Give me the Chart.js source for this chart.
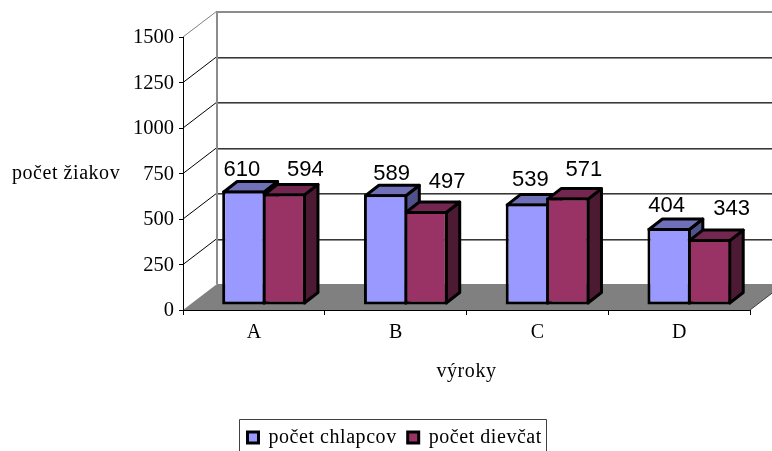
<!DOCTYPE html>
<html><head><meta charset="utf-8">
<style>html,body{margin:0;padding:0;background:#fff;overflow:hidden}canvas{display:block}</style>
<script src="https://cdn.jsdelivr.net/npm/chart.js@4"></script>
</head><body>
<canvas id="c" width="772" height="451"></canvas>
<script>
const categories = ['A', 'B', 'C', 'D'];
const boys = [610, 589, 539, 404];
const girls = [594, 497, 571, 343];
const boysName = 'počet chlapcov';
const girlsName = 'počet dievčat';
const yTitle = 'počet žiakov';
const xTitle = 'výroky';

// Drawing settings
const WALL = {dx: 34, dy: -26};
const BAR_SHIFT = {dx: 10.2, dy: -8.5};
const BAR_DEPTH = {dx: 13.5, dy: -10.5};
const SERIF = '"Liberation Serif"';
const SPACING = '0.55px';
const faceColors = [
  {top: '#7070B8', side: '#50508A'},
  {top: '#732650', side: '#4D1A33'}
];
// label nudges [dx, dy] relative to the bar's top centre, per series / category
const labelNudge = [
  [[-2, -16], [6, -16], [3, -19], [-2.5, -17]],
  [[21, -19], [21, -25], [16, -23], [22, -26]]
];

const threeD = {
  id: 'threeD',
  beforeLayout(chart) { chart.ctx.letterSpacing = SPACING; },
  afterLayout(chart) {
    const ctx = chart.ctx;
    ctx.letterSpacing = '0px';
    const lg = chart.legend;
    lg.left = 236.5; lg.right = 772; lg.top = 416.5; lg.bottom = 451;
    if (!lg._wrapped) {
      const d = lg.draw;
      lg.draw = function () { ctx.save(); ctx.letterSpacing = SPACING; d.call(this); ctx.restore(); };
      lg._wrapped = true;
    }
    const sx = chart.scales.x;
    if (!sx._wrapped) {
      const t = sx.drawTitle;
      sx.drawTitle = function () { ctx.save(); ctx.letterSpacing = SPACING; t.call(this); ctx.restore(); };
      sx._wrapped = true;
    }
    const sy = chart.scales.y;
    if (!sy._wrapped) {
      const l = sy.drawLabels;
      sy.drawLabels = function (a) { ctx.save(); ctx.translate(0, 1); l.call(this, a); ctx.restore(); };
      sy._wrapped = true;
    }
  },
  beforeDraw(chart) {
    const {ctx, chartArea: a, scales: {y}} = chart;
    ctx.save();
    // floor
    ctx.fillStyle = '#808080';
    ctx.beginPath();
    ctx.moveTo(a.left, a.bottom);
    ctx.lineTo(a.right, a.bottom);
    ctx.lineTo(a.right + WALL.dx, a.bottom + WALL.dy);
    ctx.lineTo(a.left + WALL.dx, a.bottom + WALL.dy);
    ctx.closePath();
    ctx.fill();
    // back wall lines
    const W = chart.width;
    y.ticks.forEach((t, i) => {
      if (t.value === 0) return;
      const py = y.getPixelForValue(t.value);
      const by = Math.round(py + WALL.dy);
      ctx.fillStyle = '#8c8c8c';
      ctx.fillRect(a.left + WALL.dx, by, W, 2);
      if (t.value < 1500) {
        ctx.fillStyle = 'rgba(0,0,0,0.6)';
        ctx.fillRect(a.left + WALL.dx, by, W, 1);
      }
      ctx.strokeStyle = t.value === 1500 ? '#808080' : '#000';
      ctx.lineWidth = 1;
      ctx.beginPath();
      ctx.moveTo(a.left, py);
      ctx.lineTo(a.left + WALL.dx, py + WALL.dy);
      ctx.stroke();
    });
    // wall left edge
    ctx.fillStyle = '#8c8c8c';
    ctx.fillRect(a.left + WALL.dx - 1, a.top + WALL.dy, 2, a.bottom - a.top);
    // floor right edge
    ctx.strokeStyle = '#404040';
    ctx.lineWidth = 1;
    ctx.beginPath();
    ctx.moveTo(a.right, a.bottom);
    ctx.lineTo(a.right + WALL.dx, a.bottom + WALL.dy);
    ctx.stroke();
    // y axis title
    ctx.fillStyle = '#000';
    ctx.font = '20px ' + SERIF;
    ctx.letterSpacing = SPACING;
    ctx.textAlign = 'left';
    ctx.textBaseline = 'alphabetic';
    ctx.fillText(yTitle, 12, 179);
    ctx.letterSpacing = '0px';
    // legend frame (bottom edge lies outside the picture)
    ctx.strokeStyle = '#404040';
    ctx.lineWidth = 1;
    ctx.beginPath();
    ctx.moveTo(239.5, 451);
    ctx.lineTo(239.5, 419.5);
    ctx.lineTo(546.5, 419.5);
    ctx.lineTo(546.5, 451);
    ctx.stroke();
    ctx.restore();
  },
  beforeDatasetsDraw(chart) {
    const ctx = chart.ctx;
    ctx.save();
    ctx.translate(BAR_SHIFT.dx, BAR_SHIFT.dy);
    // top and side faces, category by category, left series first
    categories.forEach((_, i) => {
      [0, 1].forEach(ds => {
        const b = chart.getDatasetMeta(ds).data[i].getProps(['x', 'y', 'base', 'width'], true);
        const l = b.x - b.width / 2 + 1.5, r = b.x + b.width / 2 - 1.5;
        const t = b.y + 1.5, bt = b.base - 1.5;
        const {dx, dy} = BAR_DEPTH;
        ctx.lineWidth = 3;
        ctx.lineJoin = 'round';
        ctx.strokeStyle = '#000';
        ctx.fillStyle = faceColors[ds].side;
        ctx.beginPath();
        ctx.moveTo(r, t); ctx.lineTo(r + dx, t + dy); ctx.lineTo(r + dx, bt + dy); ctx.lineTo(r, bt);
        ctx.closePath(); ctx.fill(); ctx.stroke();
        ctx.fillStyle = faceColors[ds].top;
        ctx.beginPath();
        ctx.moveTo(l, t); ctx.lineTo(l + dx, t + dy); ctx.lineTo(r + dx, t + dy); ctx.lineTo(r, t);
        ctx.closePath(); ctx.fill(); ctx.stroke();
      });
    });
  },
  afterDatasetsDraw(chart) {
    const ctx = chart.ctx;
    ctx.restore();
    ctx.save();
    ctx.fillStyle = '#000';
    ctx.font = '22px "Liberation Sans"';
    ctx.textAlign = 'center';
    ctx.textBaseline = 'alphabetic';
    chart.data.datasets.forEach((d, ds) => {
      chart.getDatasetMeta(ds).data.forEach((el, i) => {
        const b = el.getProps(['x', 'y'], true);
        const n = labelNudge[ds][i];
        ctx.fillText(String(d.data[i]), b.x + BAR_SHIFT.dx + n[0], b.y + BAR_SHIFT.dy + 1.5 + n[1]);
      });
    });
    ctx.restore();
  }
};

const barCommon = {
  borderColor: '#000', borderWidth: 3, borderSkipped: false,
  categoryPercentage: 0.57, barPercentage: 1.074,
  base: -16.5, clip: false
};

new Chart(document.getElementById('c'), {
  type: 'bar',
  data: {
    labels: categories,
    datasets: [
      Object.assign({label: boysName, data: boys, backgroundColor: '#9999FF'}, barCommon),
      Object.assign({label: girlsName, data: girls, backgroundColor: '#993366'}, barCommon)
    ]
  },
  plugins: [threeD],
  options: {
    responsive: false,
    animation: false,
    events: [],
    layout: {padding: {left: 123, right: 22, top: 37, bottom: 25}},
    scales: {
      x: {
        afterFit(s) { s.height = 75; },
        grid: {drawOnChartArea: false, drawTicks: true, tickLength: 5, tickColor: '#000', offset: true},
        border: {color: '#000', width: 1},
        ticks: {color: '#000', font: {family: SERIF, size: 20}, padding: 6, maxRotation: 0},
        title: {display: true, text: xTitle, color: '#000', font: {family: SERIF, size: 20}, padding: {top: 0, bottom: 1}}
      },
      y: {
        min: 0, max: 1500,
        afterFit(s) { s.width = 60; },
        grid: {drawOnChartArea: false, drawTicks: true, tickLength: 4, tickColor: '#000'},
        border: {color: '#000', width: 1},
        ticks: {stepSize: 250, color: '#000', font: {family: SERIF, size: 20.5}, padding: 5, format: {useGrouping: false}}
      }
    },
    plugins: {
      tooltip: {enabled: false},
      legend: {
        display: true, position: 'bottom', align: 'start',
        labels: {boxWidth: 11, boxHeight: 11, padding: 11, color: '#000', font: {family: SERIF, size: 20}}
      }
    }
  }
});
</script>
</body></html>
